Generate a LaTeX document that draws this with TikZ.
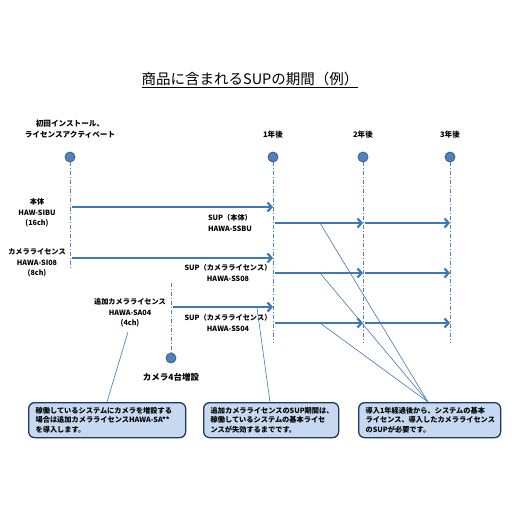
\documentclass[tikz,border=0pt]{standalone}
\usepackage{fontspec}
\setmainfont{Noto Sans CJK JP}
\usetikzlibrary{arrows.meta}
\definecolor{tl}{HTML}{4F81BD}
\definecolor{tlb}{HTML}{385D8A}
\definecolor{tla}{HTML}{4277B5}
\definecolor{cfill}{HTML}{C6D9F1}
\definecolor{cdraw}{HTML}{1F3864}
\begin{document}
\begin{tikzpicture}[x=1pt,y=-1pt,
  dot/.style={circle, fill=tl, draw=tlb, line width=0.8pt, minimum size=10pt, inner sep=0pt},
  vline/.style={draw=tl, line width=0.6pt, dash pattern=on 4pt off 2pt on 1pt off 2pt},
  bigarrow/.style={draw=tla, line width=2.2pt, -{Straight Barb[length=4pt,width=9pt]}},
  lbl/.style={font=\bfseries\fontsize{7.2}{10.5}\selectfont, align=center, inner sep=0pt},
  yrlbl/.style={font=\bfseries\fontsize{7.6}{11.5}\selectfont, align=center, inner sep=0pt},
  callout/.style={anchor=north west, rounded corners=6pt, fill=cfill, draw=cdraw, line width=1.3pt,
     align=left, font=\bfseries\fontsize{7.2}{9.6}\selectfont, inner xsep=7pt, inner ysep=0pt, minimum height=35pt},
  ptr/.style={draw=tla, line width=0.6pt}
]
\useasboundingbox[fill=white] (0,0) rectangle (512,512);

% title
\node[font=\fontsize{14.5}{16}\selectfont, inner sep=0pt] (title) at (250,80) {\underline{商品に含まれるSUPの期間（例）}};

% timeline headers
\node[yrlbl] (h0) at (70,129) {初回インストール、\\ライセンスアクティベート};
\node[yrlbl] (h1) at (273,135) {1年後};
\node[yrlbl] (h2) at (363,135) {2年後};
\node[yrlbl] (h3) at (450,135) {3年後};

% circles
\node[dot] (c0) at (70,157) {};
\node[dot] (c1) at (273,157) {};
\node[dot] (c2) at (363,157) {};
\node[dot] (c3) at (450,157) {};
\node[dot] (c4) at (171,358) {};

% dashed verticals
\coordinate (e0) at (70,270);
\coordinate (e1) at (273,343);
\coordinate (e2) at (363,343);
\coordinate (e3) at (450,343);
\coordinate (s4) at (171,283);
\draw[vline] (c0) -- (e0);
\draw[vline] (c1) -- (e1);
\draw[vline] (c2) -- (e2);
\draw[vline] (c3) -- (e3);
\draw[vline] (s4) -- (c4);

\node[font=\bfseries\fontsize{8.5}{10}\selectfont, inner sep=0pt] (add4) at (171,377) {カメラ4台増設};

% left labels
\node[lbl] (l1) at (37,213) {本体\\HAW-SIBU\\(16ch)};
\node[lbl] (l2) at (37,263) {カメラライセンス\\HAWA-SI08\\(8ch)};
\node[lbl] (l3) at (130,313) {追加カメラライセンス\\HAWA-SA04\\(4ch)};

% license arrows
\coordinate (a1s) at (72,207);  \coordinate (a1e) at (273,207);
\coordinate (a2s) at (72,258);  \coordinate (a2e) at (273,258);
\coordinate (a3s) at (173,307); \coordinate (a3e) at (273,307);
\draw[bigarrow] (a1s) -- (a1e);
\draw[bigarrow] (a2s) -- (a2e);
\draw[bigarrow] (a3s) -- (a3e);

% SUP labels
\node[lbl] (sl1) at (230,223) {SUP（本体）\\HAWA-SSBU};
\node[lbl] (sl2) at (228,273) {SUP（カメラライセンス）\\HAWA-SS08};
\node[lbl] (sl3) at (228,323) {SUP（カメラライセンス）\\HAWA-SS04};

% SUP arrows
\foreach \i/\y in {1/223,2/273,3/323}{
  \coordinate (s\i a) at (275,\y);
  \coordinate (s\i b) at (363,\y);
  \coordinate (s\i c) at (365,\y);
  \coordinate (s\i d) at (450,\y);
  \coordinate (s\i p) at (320,\y);
}
\draw[bigarrow] (s1a) -- (s1b);
\draw[bigarrow] (s1c) -- (s1d);
\draw[bigarrow] (s2a) -- (s2b);
\draw[bigarrow] (s2c) -- (s2d);
\draw[bigarrow] (s3a) -- (s3b);
\draw[bigarrow] (s3c) -- (s3d);

% callouts
\node[callout, minimum width=157pt, text width=143pt] (b1) at (28,402)
  {稼働しているシステムにカメラを増設する\\場合は追加カメラライセンスHAWA-SA**\\を導入します。};
\node[callout, minimum width=135pt, text width=121pt] (b2) at (203,402)
  {追加カメラライセンスのSUP期間は、\\稼働しているシステムの基本ライセ\\ンスが失効するまでです。};
\node[callout, minimum width=142pt, text width=128pt] (b3) at (358,402)
  {導入1年経過後から、システムの基本\\ライセンス、導入したカメラライセンス\\のSUPが必要です。};

% pointers
\coordinate (p1) at (128,332);
\coordinate (p2) at (257,308);
\coordinate (q1) at (107,402);
\coordinate (q2) at (270,402);
\coordinate (q3) at (428,402);
\draw[ptr] (p1) -- (q1);
\draw[ptr] (p2) -- (q2);
\draw[ptr] (s1p) -- (q3);
\draw[ptr] (s2p) -- (q3);
\draw[ptr] (s3p) -- (q3);
\end{tikzpicture}
\end{document}
